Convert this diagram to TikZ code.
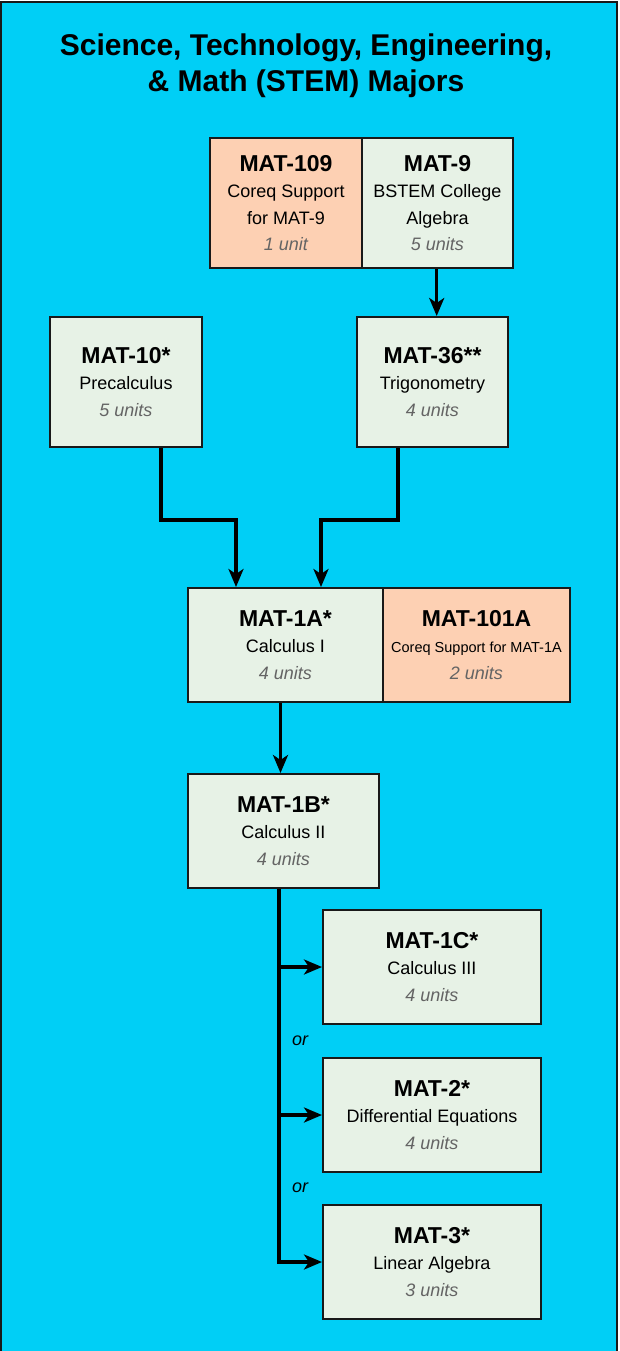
\documentclass[tikz,border=0pt]{standalone}
\usepackage{fontspec}
\setmainfont{Liberation Sans}
\usetikzlibrary{arrows.meta,calc}
\definecolor{bgcyan}{RGB}{0,207,246}
\definecolor{boxgreen}{RGB}{231,242,230}
\definecolor{boxpeach}{RGB}{253,208,179}
\definecolor{unitgray}{RGB}{100,100,100}
\definecolor{edgecol}{RGB}{25,25,25}
\newcommand\crsT[1]{{\fontsize{23}{26.5}\selectfont\bfseries #1}}
\newcommand\crsU[1]{{\color{unitgray}\itshape #1}}
\begin{document}
\begin{tikzpicture}[x=1pt,y=-1pt,
  course/.style={draw=edgecol,line width=2pt,inner sep=0pt,align=center,
    font=\fontsize{18}{26.5}\selectfont},
  greenbox/.style={course,fill=boxgreen},
  peachbox/.style={course,fill=boxpeach},
  conn/.style={line width=3.5pt,draw=black,-{Stealth[length=18pt,width=15pt,inset=5pt]}},
  orlabel/.style={font=\fontsize{18}{22}\selectfont\itshape,inner sep=0pt},
  titlestyle/.style={font=\fontsize{30}{36}\selectfont\bfseries,align=center,inner sep=0pt}
]
\useasboundingbox (0,0) rectangle (619,1351);
\fill[white] (0,0) rectangle (619,1351);
\fill[bgcyan] (1,2.5) rectangle (617,1351);
\draw[edgecol,line width=2pt] (1,1351) -- (1,2.5) -- (617,2.5) -- (617,1351);

\node[titlestyle] (title) at (306,65.5) {Science, Technology, Engineering,\\ \& Math (STEM) Majors};

\node[peachbox,minimum width=152pt,minimum height=130pt] (mat109) at (286,203)
  {\crsT{MAT-109}\\ Coreq Support\\ for MAT-9\\ \crsU{1 unit}};
\node[greenbox,minimum width=151pt,minimum height=130pt] (mat9) at (437.5,203)
  {\crsT{MAT-9}\\ BSTEM College\\ Algebra\\ \crsU{5 units}};

\node[greenbox,minimum width=152pt,minimum height=130pt] (mat10) at (126,382)
  {\crsT{MAT-10*}\\ Precalculus\\ \crsU{5 units}};
\node[greenbox,minimum width=151pt,minimum height=130pt] (mat36) at (432.5,382)
  {\crsT{MAT-36**}\\ Trigonometry\\ \crsU{4 units}};

\node[greenbox,minimum width=195pt,minimum height=114pt] (mat1a) at (285.5,645)
  {\crsT{MAT-1A*}\\ Calculus I\\ \crsU{4 units}};
\node[peachbox,minimum width=187pt,minimum height=114pt] (mat101a) at (476.5,645)
  {\crsT{MAT-101A}\\ {\fontsize{14.5}{26.5}\selectfont Coreq Support for MAT-1A}\\ \crsU{2 units}};

\node[greenbox,minimum width=191pt,minimum height=114pt] (mat1b) at (283.5,831)
  {\crsT{MAT-1B*}\\ Calculus II\\ \crsU{4 units}};

\node[greenbox,minimum width=218pt,minimum height=114pt] (mat1c) at (432,967)
  {\crsT{MAT-1C*}\\ Calculus III\\ \crsU{4 units}};
\node[greenbox,minimum width=218pt,minimum height=114pt] (mat2) at (432,1115)
  {\crsT{MAT-2*}\\ Differential Equations\\ \crsU{4 units}};
\node[greenbox,minimum width=218pt,minimum height=114pt] (mat3) at (432,1262)
  {\crsT{MAT-3*}\\ Linear Algebra\\ \crsU{3 units}};

\node[orlabel] (or1) at (300,1040.5) {or};
\node[orlabel] (or2) at (300,1188) {or};

% connectors
\draw[conn] ([xshift=-0.8pt]mat9.south) -- ([xshift=-0.8pt]mat9.south |- mat36.north);
\draw[conn] ([xshift=35pt]mat10.south) -- ++(0,72) -| ([xshift=-49.5pt]mat1a.north);
\draw[conn] ([xshift=-34.5pt]mat36.south) -- ++(0,72) -| ([xshift=35.5pt]mat1a.north);
\draw[conn] ([xshift=-5pt]mat1a.south) -- ([xshift=-5pt]mat1a.south |- mat1b.north);
\draw[conn] ([xshift=-4.5pt]mat1b.south) |- (mat3.west);
\draw[conn] ([xshift=-4.5pt]mat1b.south |- mat1c.west) -- (mat1c.west);
\draw[conn] ([xshift=-4.5pt]mat1b.south |- mat2.west) -- (mat2.west);
\end{tikzpicture}
\end{document}
